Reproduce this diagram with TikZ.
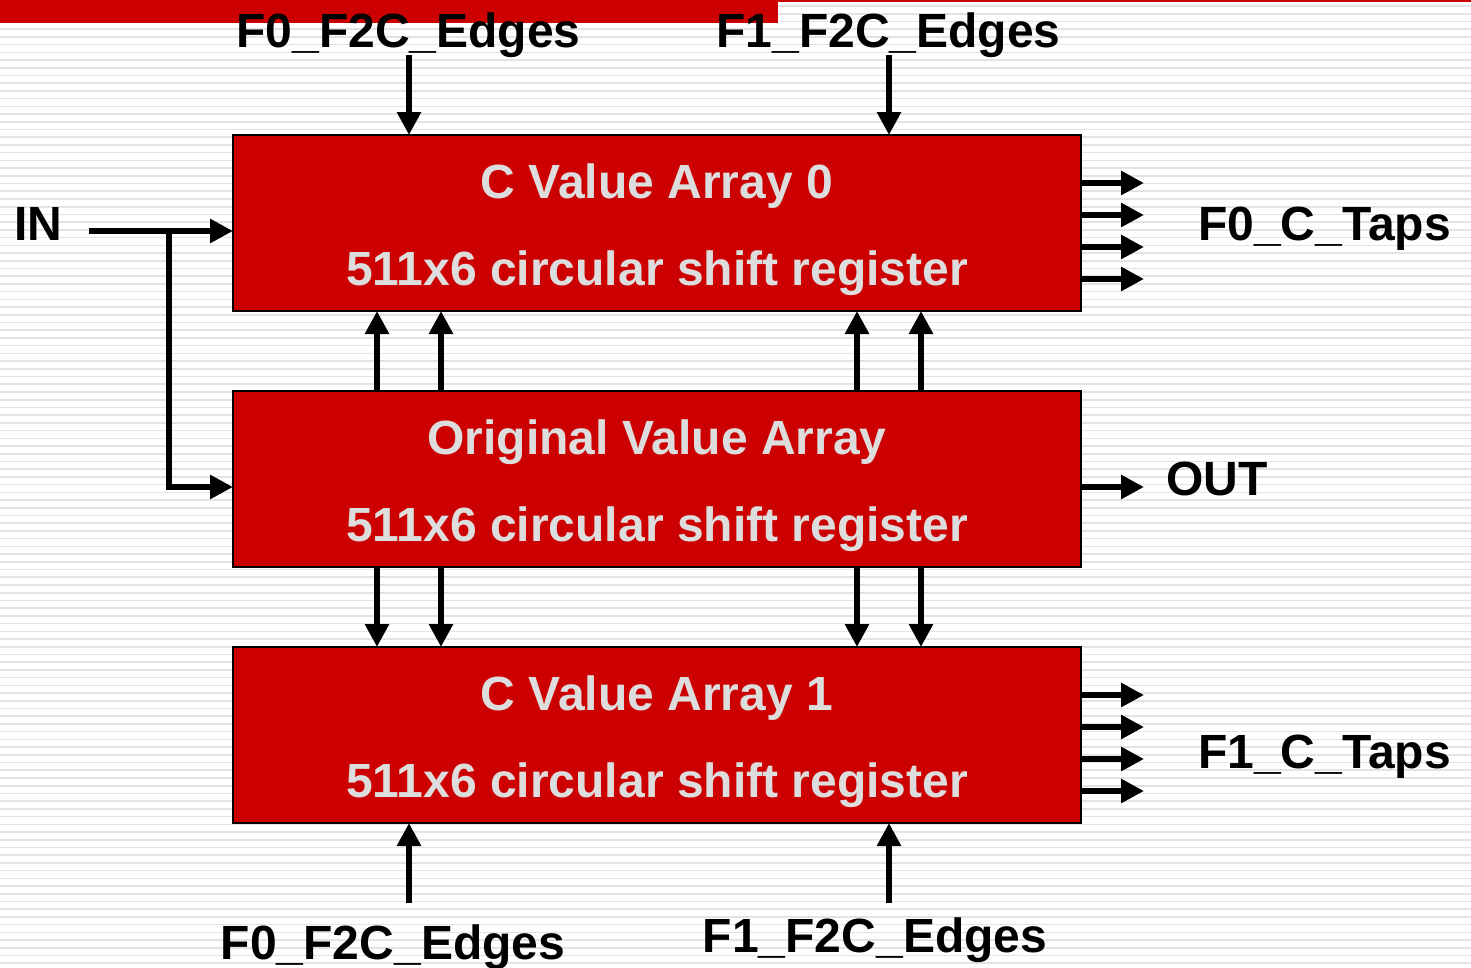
\documentclass[tikz,border=0pt]{standalone}
\usepackage{fontspec}
\setmainfont{Liberation Sans}
\usetikzlibrary{arrows.meta}
\definecolor{boxred}{HTML}{CC0000}
\definecolor{txtgray}{HTML}{DDDDDD}
\definecolor{stripe}{HTML}{E3E3E3}
\begin{document}
\begin{tikzpicture}[x=1pt,y=-1pt,
  regbox/.style={draw=black, line width=1.5pt, fill=boxred, minimum width=848pt, minimum height=176pt, inner sep=0pt, outer sep=0pt},
  boxtxt/.style={text=txtgray, font=\fontsize{48}{56}\selectfont\bfseries, inner sep=0pt, anchor=base},
  lbl/.style={text=black, font=\fontsize{48}{56}\selectfont\bfseries, inner sep=0pt},
  arr/.style={line width=6.5pt, -{Triangle[width=23pt,length=23pt]}},
  stripeline/.style={draw=stripe, line width=1.6pt},
]
\useasboundingbox (0,0) rectangle (1471,967);
\fill[white] (0,0) rectangle (1471,967);
\foreach \i in {0,...,125} {
  \draw[stripeline] (0,{6+\i*7.72}) -- (1471,{6+\i*7.72});
}
% top red bar
\fill[boxred] (0,0) rectangle (778,23);
\fill[boxred] (778,0) rectangle (1471,1.5);

% boxes
\node[regbox] (b1) at (657,223) {};
\node[regbox] (b2) at (657,479) {};
\node[regbox] (b3) at (657,735) {};

\node[boxtxt] (b1a) at ([yshift=-63pt]b1.north) {C Value Array 0};
\node[boxtxt] (b1b) at ([yshift=-150pt]b1.north) {511x6 circular shift register};
\node[boxtxt] (b2a) at ([yshift=-63pt]b2.north) {Original Value Array};
\node[boxtxt] (b2b) at ([yshift=-150pt]b2.north) {511x6 circular shift register};
\node[boxtxt] (b3a) at ([yshift=-63pt]b3.north) {C Value Array 1};
\node[boxtxt] (b3b) at ([yshift=-150pt]b3.north) {511x6 circular shift register};

% labels
\node[lbl, anchor=base] (tE0) at (408.5,47) {F0\_F2C\_Edges};
\node[lbl, anchor=base] (tE1) at (888.5,47) {F1\_F2C\_Edges};
\node[lbl, anchor=base] (bE0) at (393,959) {F0\_F2C\_Edges};
\node[lbl, anchor=base] (bE1) at (875,952) {F1\_F2C\_Edges};
\node[lbl, anchor=base west] (in) at (14,240) {IN};
\node[lbl, anchor=base west] (t0) at (1198,240) {F0\_C\_Taps};
\node[lbl, anchor=base west] (out) at (1166,495) {OUT};
\node[lbl, anchor=base west] (t1) at (1198,768) {F1\_C\_Taps};

% top / bottom edge arrows
\coordinate (tE0s) at (409,55);
\coordinate (tE1s) at (889,55);
\coordinate (bE0s) at (409,903);
\coordinate (bE1s) at (889,903);
\draw[arr] (tE0s) -- (tE0s |- b1.north);
\draw[arr] (tE1s) -- (tE1s |- b1.north);
\draw[arr] (bE0s) -- (bE0s |- b3.south);
\draw[arr] (bE1s) -- (bE1s |- b3.south);

% between boxes
\foreach \dx in {144,208,624,688} {
  \draw[arr] ([xshift=\dx pt]b2.north west) -- ([xshift=\dx pt]b1.south west);
  \draw[arr] ([xshift=\dx pt]b2.south west) -- ([xshift=\dx pt]b3.north west);
}

% IN
\coordinate (inS) at (89,231);
\coordinate (inJ) at (169,231);
\draw[arr] (inS) -- ([yshift=-8pt]b1.west);
\draw[arr] (inJ) |- ([yshift=-8pt]b2.west);

% OUT
\draw[arr] ([yshift=-8pt]b2.east) -- ++(63pt,0);

% taps
\foreach \dy in {48,80,112,144} {
  \draw[arr] ([yshift=-\dy pt]b1.north east) -- ++(63pt,0);
  \draw[arr] ([yshift=-\dy pt]b3.north east) -- ++(63pt,0);
}
\end{tikzpicture}
\end{document}
